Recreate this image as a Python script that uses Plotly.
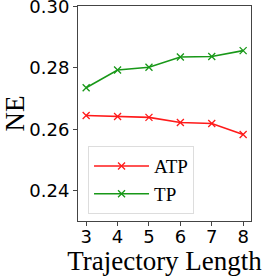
import plotly.graph_objects as go

lengths = [3, 4, 5, 6, 7, 8]
atp = [0.2645, 0.2642, 0.2639, 0.2622, 0.2619, 0.2583]
tp = [0.2735, 0.2793, 0.2802, 0.2835, 0.2837, 0.2856]
y_ticks = [0.24, 0.26, 0.28, 0.30]

serif = "Liberation Serif, Times New Roman, serif"
red = "#ff1a1a"
green = "#189818"

fig = go.Figure()
fig.add_trace(go.Scatter(x=lengths, y=atp, name="ATP", mode="lines+markers",
                         line=dict(color=red, width=1.6),
                         marker=dict(symbol="x-thin", size=7, line=dict(width=1.3, color=red), color=red)))
fig.add_trace(go.Scatter(x=lengths, y=tp, name="TP", mode="lines+markers",
                         line=dict(color=green, width=1.6),
                         marker=dict(symbol="x-thin", size=7, line=dict(width=1.3, color=green), color=green)))

fig.update_layout(
    width=266, height=276,
    margin=dict(l=78, r=15, t=6, b=55, autoexpand=False),
    plot_bgcolor="white", paper_bgcolor="white",
    showlegend=True,
    legend=dict(x=0.058, y=0.19, xanchor="left", yanchor="middle",
                font=dict(family=serif, size=19, color="black"),
                bordercolor="#dddddd", borderwidth=1, bgcolor="rgba(255,255,255,0.8)",
                tracegroupgap=2, itemwidth=55),
)
fig.update_xaxes(range=[2.74, 8.25], tickvals=lengths, ticks="outside", ticklen=4,
                 tickcolor="#444", showgrid=False, zeroline=False, automargin=False,
                 showline=True, linecolor="#444", linewidth=1, mirror=True,
                 ticklabelstandoff=-5, ticklabeloverflow="allow",
                 tickfont=dict(family="DejaVu Sans", size=18, color="black"),
                 title=dict(text="Trajectory Length",
                            font=dict(family=serif, size=27, color="black")))
fig.update_yaxes(range=[0.2302, 0.3001], tickvals=y_ticks, tickformat=".2f", ticks="outside", ticklen=4,
                 tickcolor="#444", showgrid=False, zeroline=False, automargin=False,
                 showline=True, linecolor="#444", linewidth=1, mirror=True,
                 ticklabeloverflow="allow",
                 tickfont=dict(family="DejaVu Sans", size=18, color="black"),
                 title=dict(text="NE",
                            font=dict(family=serif, size=27, color="black")))

fig.write_html("out.html", config={"displayModeBar": False},
               post_script="document.body.style.margin='0';")
